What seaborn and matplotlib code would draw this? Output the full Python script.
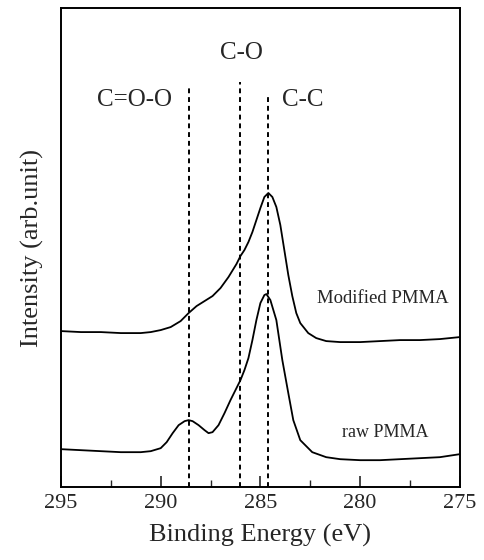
import numpy as np
import pandas as pd
import matplotlib
matplotlib.use("Agg")
import matplotlib.pyplot as plt
import seaborn as sns

# Binding energy (eV) and intensity (arb. units)
mod_energy = [295.0, 294.0, 293.0, 292.0, 291.0, 290.5, 290.0, 289.5, 289.0, 288.6,
              288.2, 287.8, 287.4, 287.0, 286.6, 286.2, 286.0, 285.8, 285.6, 285.4,
              285.2, 285.0, 284.8, 284.6, 284.4, 284.2, 284.0, 283.8, 283.6, 283.4,
              283.2, 283.0, 282.6, 282.2, 281.7, 281.0, 280.0, 279.0, 278.0, 277.0,
              276.0, 275.0]
mod_intensity = [156, 155, 155, 154, 154, 155, 157, 160, 166, 174,
                 181, 186, 191, 199, 210, 223, 231, 237, 245, 255,
                 267, 279, 290, 294, 290, 280, 262, 237, 212, 191,
                 174, 164, 154, 149, 146, 145, 145, 146, 147, 147,
                 148, 150]

raw_energy = [295.0, 294.0, 293.0, 292.0, 291.0, 290.5, 290.0, 289.7, 289.4, 289.1,
              288.8, 288.6, 288.4, 288.1, 287.8, 287.6, 287.4, 287.1, 286.8, 286.5,
              286.2, 286.0, 285.8, 285.6, 285.4, 285.2, 285.0, 284.8, 284.7, 284.5,
              284.2, 283.9, 283.6, 283.35, 283.0, 282.4, 281.7, 281.0, 280.0, 279.0,
              278.0, 277.0, 276.0, 275.0]
raw_intensity = [38, 37, 36, 35, 35, 36, 39, 45, 54, 62,
                 66, 67, 66, 62, 57, 54, 55, 62, 74, 87,
                 99, 107, 117, 129, 147, 167, 184, 192, 193, 187,
                 167, 127, 94, 67, 47, 35, 30, 28, 27, 27,
                 28, 29, 30, 33]

peak_positions = [288.6, 286.0, 284.6]
peak_labels = ["C=O-O", "C-O", "C-C"]
spectrum_labels = ["Modified PMMA", "raw PMMA"]
x_ticks = [295, 290, 285, 280, 275]

df = pd.concat([
    pd.DataFrame({"energy": mod_energy, "intensity": mod_intensity, "sample": spectrum_labels[0]}),
    pd.DataFrame({"energy": raw_energy, "intensity": raw_intensity, "sample": spectrum_labels[1]}),
])

sns.set_style("ticks")
plt.rcParams["font.family"] = ["Liberation Serif", "DejaVu Serif"]
plt.rcParams["xtick.direction"] = "in"

fig = plt.figure(figsize=(4.84, 5.60), dpi=100)
ax = fig.add_axes([0.126, 0.130, 0.824, 0.856])

sns.lineplot(data=df, x="energy", y="intensity", units="sample", estimator=None,
             color="black", linewidth=1.3, sort=False, ax=ax, legend=False)

ax.set_xlim(295, 275)
ax.set_ylim(0, 479)

# dashed reference lines
tops = [399, 405, 392]
for xp, top in zip(peak_positions, tops):
    ax.plot([xp, xp], [0, top], color="black", linestyle=(0, (2.5, 2)), linewidth=1.4)

ax.text(291.32, 387, peak_labels[0], fontsize=18, ha="center", va="center")
ax.text(285.93, 434, peak_labels[1], fontsize=18, ha="center", va="center")
ax.text(282.9, 387, peak_labels[2], fontsize=18, ha="center", va="center")
ax.text(278.86, 189, spectrum_labels[0], fontsize=13.5, ha="center", va="center")
ax.text(278.76, 55, spectrum_labels[1], fontsize=13, ha="center", va="center")

ax.set_xticks(x_ticks)
ax.set_xticks([292.5, 287.5, 282.5, 277.5], minor=True)
ax.tick_params(axis="x", which="major", length=8, width=1.2, labelsize=16, pad=5, top=False)
ax.tick_params(axis="x", which="minor", length=5, width=1.0, top=False)
ax.set_yticks([])
for s in ax.spines.values():
    s.set_linewidth(1.4)
    s.set_color("black")
    s.set_visible(True)

ax.set_xlabel("Binding Energy (eV)", fontsize=19, labelpad=8)
ax.set_ylabel("Intensity (arb.unit)", fontsize=19, labelpad=12)

fig.savefig("out.png", dpi=100)
